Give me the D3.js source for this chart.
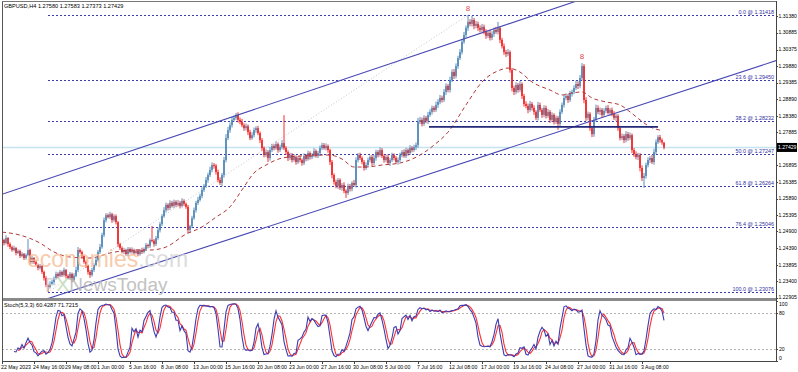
<!DOCTYPE html>
<html><head><meta charset="utf-8">
<script src="https://cdn.jsdelivr.net/npm/d3@7"></script>
<style>
html,body{margin:0;padding:0;background:#fff;}
svg{display:block;font-family:"Liberation Sans",Arial,sans-serif;}
</style></head><body>
<svg id="c" width="798" height="372"></svg>
<script>
// ---------------- data ----------------
const symbolHeader = "GBPUSD,H4  1.27580 1.27583 1.27373 1.27429";
const stochHeader = "Stoch(5,3,3) 60.4287 71.7215";
const firstOpen = 1.2470;
const closes = [
1.2464,1.2455,1.2470,1.2452,1.2443,1.2434,1.2440,1.2425,1.2431,1.2416,
1.2422,1.2410,1.2419,1.2434,1.2398,1.2410,1.2398,1.2389,1.2380,1.2386,
1.2368,1.2350,1.2329,1.2323,1.2332,1.2338,1.2350,1.2362,1.2356,1.2368,
1.2359,1.2374,1.2356,1.2350,1.2362,1.2344,1.2356,1.2374,1.2434,1.2428,
1.2416,1.2398,1.2386,1.2368,1.2359,1.2374,1.2389,1.2404,1.2428,1.2443,
1.2479,1.2524,1.2539,1.2533,1.2542,1.2524,1.2536,1.2518,1.2452,1.2440,
1.2428,1.2434,1.2422,1.2437,1.2428,1.2434,1.2425,1.2431,1.2422,1.2434,
1.2428,1.2437,1.2449,1.2446,1.2464,1.2462,1.2452,1.2470,1.2494,1.2512,
1.2536,1.2554,1.2570,1.2561,1.2576,1.2567,1.2579,1.2570,1.2576,1.2567,
1.2582,1.2573,1.2564,1.2494,1.2506,1.2530,1.2554,1.2576,1.2585,1.2597,
1.2615,1.2627,1.2645,1.2660,1.2675,1.2690,1.2688,1.2669,1.2645,1.2636,
1.2660,1.2705,1.2771,1.2795,1.2810,1.2826,1.2832,1.2841,1.2826,1.2820,
1.2810,1.2801,1.2807,1.2789,1.2771,1.2780,1.2795,1.2801,1.2786,1.2765,
1.2741,1.2720,1.2729,1.2711,1.2735,1.2747,1.2741,1.2753,1.2735,1.2744,
1.2756,1.2741,1.2729,1.2711,1.2720,1.2705,1.2714,1.2699,1.2711,1.2705,
1.2696,1.2717,1.2708,1.2726,1.2714,1.2720,1.2732,1.2717,1.2726,1.2741,
1.2750,1.2741,1.2747,1.2735,1.2699,1.2660,1.2639,1.2627,1.2645,1.2621,
1.2630,1.2612,1.2606,1.2627,1.2618,1.2636,1.2630,1.2705,1.2720,1.2711,
1.2699,1.2681,1.2690,1.2705,1.2714,1.2696,1.2711,1.2729,1.2720,1.2735,
1.2717,1.2705,1.2714,1.2696,1.2705,1.2720,1.2711,1.2699,1.2705,1.2720,
1.2729,1.2717,1.2735,1.2726,1.2741,1.2735,1.2744,1.2750,1.2820,1.2826,
1.2814,1.2832,1.2823,1.2841,1.2850,1.2862,1.2856,1.2871,1.2880,1.2892,
1.2886,1.2910,1.2928,1.2916,1.2946,1.2970,1.2958,1.2988,1.3012,1.3030,
1.3061,1.3082,1.3103,1.3121,1.3115,1.3127,1.3109,1.3115,1.3103,1.3097,
1.3106,1.3091,1.3079,1.3088,1.3073,1.3085,1.3097,1.3091,1.3103,1.3067,
1.3048,1.3030,1.3024,1.3030,1.2976,1.2922,1.2910,1.2931,1.2916,1.2934,
1.2898,1.2874,1.2868,1.2856,1.2874,1.2862,1.2850,1.2832,1.2871,1.2856,
1.2841,1.2862,1.2838,1.2850,1.2826,1.2841,1.2820,1.2832,1.2814,1.2850,
1.2871,1.2892,1.2898,1.2886,1.2904,1.2910,1.2922,1.2934,1.2928,1.2952,
1.2988,1.2886,1.2832,1.2844,1.2801,1.2783,1.2826,1.2862,1.2850,1.2856,
1.2841,1.2853,1.2862,1.2847,1.2856,1.2844,1.2832,1.2838,1.2801,1.2771,
1.2777,1.2765,1.2783,1.2771,1.2780,1.2735,1.2723,1.2714,1.2720,1.2681,
1.2651,1.2657,1.2690,1.2705,1.2711,1.2699,1.2729,1.2759,1.2774,1.2765,
1.2758,1.27429];
// upper / lower wick length of each bar, in pips
const wickUp = [
6,4,8,3,5,4,7,3,5,4, 6,3,5,33,4,7,3,5,4,6, 3,4,5,3,8,6,4,7,5,6, 4,7,3,5,6,4,8,10,9,5,
4,3,5,4,6,7,5,8,6,9, 7,8,6,5,7,4,6,5,3,4, 5,7,4,6,5,8,4,5,6,3, 7,5,6,4,5,42,5,6,8,7,
6,9,7,5,8,6,7,5,9,6, 8,5,4,6,4,7,8,6,9,7, 8,6,9,7,10,8,6,5,7,8, 6,9,12,10,8,9,7,6,8,7,
9,6,8,5,7,9,8,6,7,5, 6,5,8,6,9,7,6,8,5,7, 9,84,6,5,7,6,8,5,6,7, 5,8,6,7,5,6,9,5,7,8,
7,6,8,5,4,6,5,7,6,5, 6,8,5,7,6,5,9,8,6,7, 5,6,8,7,5,6,9,7,6,8, 6,5,7,8,6,7,5,6,8,7,
6,8,7,5,9,6,7,8,12,9, 7,8,6,9,8,7,6,10,8,9, 7,9,8,6,10,8,9,8,7,9, 8,9,7,21,8,12,6,9,7,8,
9,7,8,6,9,8,7,9,18,5, 6,8,7,9,5,6,7,8,6,9, 5,6,8,7,9,6,8,5,9,7, 6,8,7,9,6,8,5,7,6,8,
7,9,8,6,9,7,8,10,8,9, 9,6,8,7,5,6,9,10,8,7, 6,8,7,9,6,7,8,6,5,7, 8,6,9,7,8,5,6,8,7,6,
8,9,7,8,6,9,10,8,6,7, 5,0];
const wickDn = [
5,7,4,8,6,5,4,7,3,6, 4,6,5,4,8,5,6,4,7,5, 6,8,7,15,5,4,6,5,7,4, 6,5,8,4,6,7,5,4,6,5,
7,5,6,8,9,5,6,4,5,6, 5,6,7,4,6,8,5,7,9,6, 4,6,5,7,4,5,6,4,7,5, 6,4,5,7,6,5,8,6,5,7,
6,5,7,8,6,5,7,6,5,8, 5,7,6,9,8,6,5,7,6,5, 7,6,5,8,6,7,9,8,7,6, 9,8,7,6,8,7,5,6,8,7,
6,8,7,9,6,5,7,8,6,9, 8,7,6,12,8,6,7,5,8,6, 7,6,8,9,6,7,5,8,6,7, 8,6,7,5,8,6,7,5,6,8,
6,5,7,8,9,10,8,7,9,6, 8,7,15,6,8,7,6,8,7,6, 7,8,6,5,7,9,6,8,7,5, 6,8,7,5,9,6,7,5,8,6,
7,5,6,8,6,7,5,9,8,7, 8,6,7,9,6,8,7,6,9,7, 8,6,9,7,8,6,9,7,8,6, 7,6,8,9,7,8,10,7,9,8,
8,7,9,6,8,7,9,6,8,10, 7,8,9,6,8,10,9,7,8,6, 9,8,7,10,6,8,9,7,8,6, 9,7,8,6,9,7,8,6,18,7,
6,8,7,9,6,8,7,6,9,7, 8,10,9,7,8,9,8,6,7,9, 8,6,7,5,8,7,6,9,8,7, 6,9,7,8,6,9,8,7,9,10,
9,30,8,7,9,6,8,7,6,8, 7,6];
// moving average (dashed), read at sample bars
const maBars   = [0,9,19,26,34,44,54,65,74,82,92,99,107,114,120,126,132,140,149,157,164,170,176,182,190,199,209,216,223,232,240,249,253,259,265,274,280,285,290,295,302,309,314,319,324,329];
const maValues = [1.2488,1.2479,1.2455,1.2428,1.2413,1.2410,1.2425,1.2434,1.2434,1.2443,1.2482,1.2500,1.2533,1.2564,1.2615,1.2666,1.2690,1.2711,1.2717,1.2720,1.2720,1.2708,1.2684,1.2684,1.2690,1.2696,1.2720,1.2750,1.2789,1.2871,1.2940,1.2976,1.2982,1.2970,1.2940,1.2916,1.2901,1.2907,1.2910,1.2892,1.2880,1.2871,1.2850,1.2826,1.2805,1.2795];
const priceTicks = [1.31380,1.30885,1.30375,1.29880,1.29385,1.28890,1.28380,1.27885,1.26895,1.26385,1.25890,1.25395,1.24900,1.24390,1.23895,1.23400,1.22905];
const timeLabelBars = [0,16,32,48,64,80,96,112,128,144,160,176,192,208,224,240,256,272,288,304,320];
const timeLabels = ["22 May 2023","24 May 16:00","29 May 08:00","1 Jun 00:00","5 Jun 16:00","8 Jun 08:00","13 Jun 00:00","15 Jun 16:00","20 Jun 08:00","23 Jun 00:00","27 Jun 16:00","30 Jun 08:00","5 Jul 00:00","7 Jul 16:00","12 Jul 08:00","17 Jul 00:00","19 Jul 16:00","24 Jul 08:00","27 Jul 00:00","31 Jul 16:00","3 Aug 08:00"];
const fibRatios = ["0.0","23.6","38.2","50.0","61.8","76.4","100.0"];
const fibPrices = [1.31418,1.29450,1.28232,1.27247,1.26264,1.25046,1.23076];
const fibAnchorBars = [23,233];
const upperChannelBars = [0,118],   upperChannelPrices = [1.2602,1.2841];
const lowerChannelBars = [20,300],  lowerChannelPrices = [1.2282,1.2833];
const hLineBars = [213.5,328], hLinePrice = 1.2805;
const markerBars = [233,290];
const stochLevels = [80,20];
const stochAxisLabels = [100,80,20,0];
const lastPrice = 1.27429;

// ---------------- layout ----------------
const L = 2, R = 776, mainTop = 2, mainBot = 298, stTop = 301, stBot = 361;
const svg = d3.select("#c");
const x = d3.scaleLinear().domain([0,1]).range([2,4]);
const y = d3.scaleLinear().domain([1.23076,1.31418]).range([292,15]);
const ys = d3.scaleLinear().domain([0,100]).range([361,301]);

const defs = svg.append("defs");
defs.append("clipPath").attr("id","cm").append("rect").attr("x",L).attr("y",mainTop).attr("width",R-L).attr("height",mainBot-mainTop);
defs.append("clipPath").attr("id","cs").append("rect").attr("x",L).attr("y",stTop).attr("width",R-L).attr("height",stBot-stTop);

// candles
const bars = closes.map((c,i)=>{
  const o = i===0 ? firstOpen : closes[i-1];
  return {i,o,c,h:Math.max(o,c)+wickUp[i]*0.0001,l:Math.min(o,c)-wickDn[i]*0.0001};
});
bars[bars.length-1].h = 1.27583; bars[bars.length-1].l = 1.27373;

const gm = svg.append("g").attr("clip-path","url(#cm)");

// bid line
gm.append("line").attr("x1",L).attr("x2",R).attr("y1",y(lastPrice)).attr("y2",y(lastPrice))
  .attr("stroke","#c4e4f0").attr("stroke-width",1.5);

// fibonacci
const fx0 = x(fibAnchorBars[0]);
fibPrices.forEach((p,k)=>{
  gm.append("line").attr("x1",fx0).attr("x2",R-1).attr("y1",Math.round(y(p))+0.5).attr("y2",Math.round(y(p))+0.5)
    .attr("stroke","#3a3aa8").attr("stroke-width",1).attr("stroke-dasharray","2,2");
  gm.append("text").attr("x",R-2).attr("y",Math.round(y(p))-1).attr("text-anchor","end")
    .attr("font-size","5.4px").attr("fill","#3030a0").text(fibRatios[k]+" @ "+p.toFixed(5));
});
gm.append("line").attr("x1",x(fibAnchorBars[0])).attr("y1",y(fibPrices[6]))
  .attr("x2",x(fibAnchorBars[1])).attr("y2",y(fibPrices[0]))
  .attr("stroke","#c8c8c8").attr("stroke-width",1).attr("stroke-dasharray","1,2");

// candles draw
const cg = gm.append("g");
bars.forEach(b=>{
  const col = b.c >= b.o ? "#4682b4" : "#f01818";
  const cx = x(b.i);
  cg.append("line").attr("x1",cx).attr("x2",cx).attr("y1",y(b.h)).attr("y2",y(b.l)).attr("stroke",col).attr("stroke-width",0.9);
  const top = y(Math.max(b.o,b.c)), bot = y(Math.min(b.o,b.c));
  cg.append("rect").attr("x",cx-0.75).attr("width",1.5).attr("y",top).attr("height",Math.max(1,bot-top)).attr("fill",col);
});

// moving average
const maLine = d3.line().x((d,k)=>x(maBars[k])).y(d=>y(d)).curve(d3.curveMonotoneX);
gm.append("path").attr("d",maLine(maValues)).attr("fill","none").attr("stroke","#b03a3a")
  .attr("stroke-width",1).attr("stroke-dasharray","4,3");

// channel lines (rays to the right)
function ray(bs,ps){
  const slope=(ps[1]-ps[0])/(bs[1]-bs[0]);
  const bEnd=(R-2)/2+2;
  return [[x(bs[0]),y(ps[0])],[x(bEnd),y(ps[0]+slope*(bEnd-bs[0]))]];
}
[[upperChannelBars,upperChannelPrices],[lowerChannelBars,lowerChannelPrices]].forEach(([b,p])=>{
  const r=ray(b,p);
  gm.append("line").attr("x1",r[0][0]).attr("y1",r[0][1]).attr("x2",r[1][0]).attr("y2",r[1][1])
    .attr("stroke","#4848b4").attr("stroke-width",1.1);
});

// horizontal line
gm.append("line").attr("x1",x(hLineBars[0])).attr("x2",x(hLineBars[1])).attr("y1",y(hLinePrice)).attr("y2",y(hLinePrice))
  .attr("stroke","#22287a").attr("stroke-width",1.8);

// markers
markerBars.forEach(i=>{
  gm.append("text").attr("x",x(i)).attr("y",y(bars[i].h)-4).attr("text-anchor","middle")
    .attr("font-size","8px").attr("fill","#e84848").text("8");
});

// watermark
const wm = svg.append("g").attr("opacity",0.8);
const t1 = wm.append("text").attr("x",27).attr("y",267).attr("font-size","23px");
t1.append("tspan").attr("fill","#f7bf98").text("economies");
t1.append("tspan").attr("fill","#d4d4d4").text(".com");
const t2 = wm.append("text").attr("x",45).attr("y",291).attr("font-size","19px");
t2.append("tspan").attr("fill","#cfcfcf").text("F");
t2.append("tspan").attr("fill","#b8d8b0").text("X");
t2.append("tspan").attr("fill","#b4b4b4").text("NewsToday");

// header
svg.append("text").attr("x",4).attr("y",8).attr("font-size","5.6px").attr("fill","#000").text(symbolHeader);

// ---------------- stochastic ----------------
const K=5, slow=3, Dp=3, n=bars.length;
const llv=[], hhv=[];
for(let i=K-1;i<n;i++){
  const s=bars.slice(i-K+1,i+1);
  llv[i]=d3.min(s,d=>d.l); hhv[i]=d3.max(s,d=>d.h);
}
const mainK=[];
for(let i=K-1+slow-1;i<n;i++){
  let num=0,den=0;
  for(let j=i-slow+1;j<=i;j++){num+=bars[j].c-llv[j];den+=hhv[j]-llv[j];}
  mainK[i]= den>0 ? 100*num/den : 100;
}
const sigD=[];
for(let i=K-1+slow-1+Dp-1;i<n;i++){ sigD[i]=d3.mean([mainK[i],mainK[i-1],mainK[i-2]]); }

const gs = svg.append("g").attr("clip-path","url(#cs)");
stochLevels.forEach(v=>{
  gs.append("line").attr("x1",L).attr("x2",R).attr("y1",Math.round(ys(v))+0.5).attr("y2",Math.round(ys(v))+0.5)
    .attr("stroke","#b4b4b4").attr("stroke-dasharray","2,2");
});
const sl = d3.line().defined(d=>d!==undefined).x((d,i)=>x(i)).y(d=>ys(d));
gs.append("path").attr("d",sl(Array.from({length:n},(_,i)=>sigD[i]))).attr("fill","none").attr("stroke","#ff3030").attr("stroke-width",1.1);
gs.append("path").attr("d",sl(Array.from({length:n},(_,i)=>mainK[i]))).attr("fill","none").attr("stroke","#3c3cb4").attr("stroke-width",1.1);
svg.append("text").attr("x",4).attr("y",307).attr("font-size","5.6px").attr("fill","#000").text(stochHeader);

// ---------------- frames & axes ----------------
svg.append("rect").attr("x",L).attr("y",mainBot).attr("width",R-L).attr("height",3).attr("fill","#8a8a8a");
svg.append("line").attr("x1",L+0.5).attr("x2",L+0.5).attr("y1",1).attr("y2",stBot+1).attr("stroke","#555");
svg.append("line").attr("x1",L).attr("x2",R).attr("y1",1.5).attr("y2",1.5).attr("stroke","#777");
svg.append("line").attr("x1",R+0.5).attr("x2",R+0.5).attr("y1",1).attr("y2",stBot+1).attr("stroke","#444");
svg.append("line").attr("x1",L).attr("x2",R+1).attr("y1",stBot+0.5).attr("y2",stBot+0.5).attr("stroke","#444");

const ax = svg.append("g").attr("font-size","5.1px").attr("fill","#000");
priceTicks.forEach(p=>{
  const yy=y(p);
  ax.append("line").attr("x1",R).attr("x2",R+2).attr("y1",Math.round(yy)+0.5).attr("y2",Math.round(yy)+0.5).attr("stroke","#444");
  ax.append("text").attr("x",R+2.5).attr("y",yy+1.8).text(p.toFixed(5));
});
stochAxisLabels.forEach(v=>{
  let yy = ys(v); if(v===100) yy=304; if(v===0) yy=358;
  ax.append("line").attr("x1",R).attr("x2",R+2).attr("y1",Math.round(ys(v))+0.5).attr("y2",Math.round(ys(v))+0.5).attr("stroke","#444");
  ax.append("text").attr("x",R+3).attr("y",yy+1.8).text(v);
});
// last price box
ax.append("rect").attr("x",R+1).attr("y",y(lastPrice)-4.5).attr("width",20).attr("height",9).attr("fill","#000");
ax.append("text").attr("x",R+2).attr("y",y(lastPrice)+1.8).attr("fill","#fff").text(lastPrice.toFixed(5));

const tx = svg.append("g").attr("font-size","5.2px").attr("fill","#000");
timeLabelBars.forEach((b,k)=>{
  tx.append("line").attr("x1",x(b)+0.5).attr("x2",x(b)+0.5).attr("y1",stBot).attr("y2",stBot+3).attr("stroke","#444");
  tx.append("text").attr("x",x(b)-1).attr("y",369).text(timeLabels[k]);
});
</script>
</body></html>
